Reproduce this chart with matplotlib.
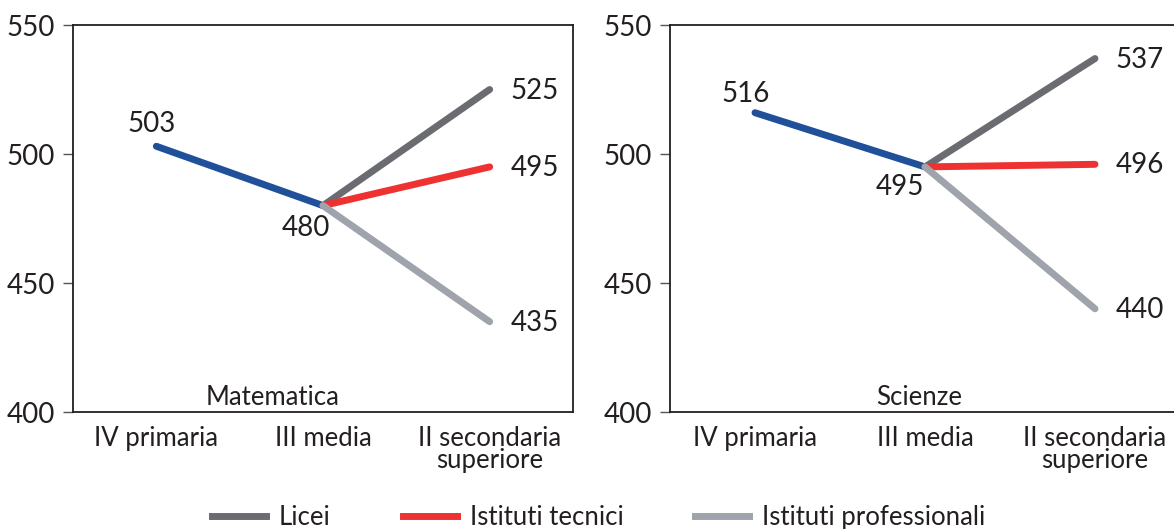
import numpy as np
import matplotlib
matplotlib.use("Agg")
import matplotlib.pyplot as plt
from matplotlib.lines import Line2D

plt.rcParams['font.family'] = ['Lato', 'DejaVu Sans']

categorie = ['IV primaria', 'III media', 'II secondaria\nsuperiore']
serie = ['Licei', 'Istituti tecnici', 'Istituti professionali']

# Matematica
mat_comune = [503, 480]
mat_finale = [525, 495, 435]
# Scienze
sci_comune = [516, 495]
sci_finale = [537, 496, 440]

col_comune = '#21509a'
colori = ['#6b6c71', '#ee3131', '#9fa4ac']

fig = plt.figure(figsize=(11.74, 5.29), dpi=100)
ax1 = fig.add_axes([73/1174, 1 - 412/529, 500/1174, 387/529])
ax2 = fig.add_axes([670/1174, 1 - 412/529, 510/1174, 387/529])

FS = 20


def pannello(ax, comune, finale, titolo, tx, off_start, off_mid):
    ax.plot([0, 1], comune, color=col_comune, lw=5, solid_capstyle='round', zorder=3)
    for v, c in zip(finale, colori):
        ax.plot([1, 2], [comune[1], v], color=c, lw=5, solid_capstyle='round', zorder=3)
    ax.annotate(str(comune[0]), (0, comune[0]), xytext=off_start, textcoords='offset pixels',
                ha='center', va='center', fontsize=FS, color='#231f20')
    ax.annotate(str(comune[1]), (1, comune[1]), xytext=off_mid, textcoords='offset pixels',
                ha='center', va='center', fontsize=FS, color='#231f20')
    for v in finale:
        ax.annotate(str(v), (2, v), xytext=(45, -1), textcoords='offset pixels',
                    ha='center', va='center', fontsize=FS, color='#231f20')
    ax.set_xlim(-0.5, 2.5)
    ax.set_ylim(400, 550)
    ax.set_yticks([400, 450, 500, 550])
    ax.set_xticks(range(3))
    ax.set_xticklabels(categorie, linespacing=0.85)
    ax.tick_params(axis='x', length=0, pad=10, labelsize=FS - 1.5, labelcolor='#231f20')
    ax.tick_params(axis='y', length=7, width=1, pad=6, labelsize=FS, labelcolor='#231f20',
                   color='#555555')
    for s in ax.spines.values():
        s.set_linewidth(1.3)
        s.set_color('#231f20')
    ax.text(tx, 0.005, titolo, transform=ax.transAxes, ha='center', va='bottom',
            fontsize=FS - 1.5, color='#231f20')


pannello(ax1, mat_comune, mat_finale, 'Matematica', 0.4, (-5, 22), (-17, -22))
pannello(ax2, sci_comune, sci_finale, 'Scienze', 0.488, (-9, 19), (-25, -20))

handles = [Line2D([0], [0], color=c, lw=5) for c in colori]
fig.legend(handles, serie, loc='center', bbox_to_anchor=(0.51, 0.022), ncol=3,
           frameon=False, fontsize=FS - 1.5, handlelength=2.1, handletextpad=0.5,
           columnspacing=2.8, labelcolor='#231f20')

fig.savefig('out.png', dpi=100)
